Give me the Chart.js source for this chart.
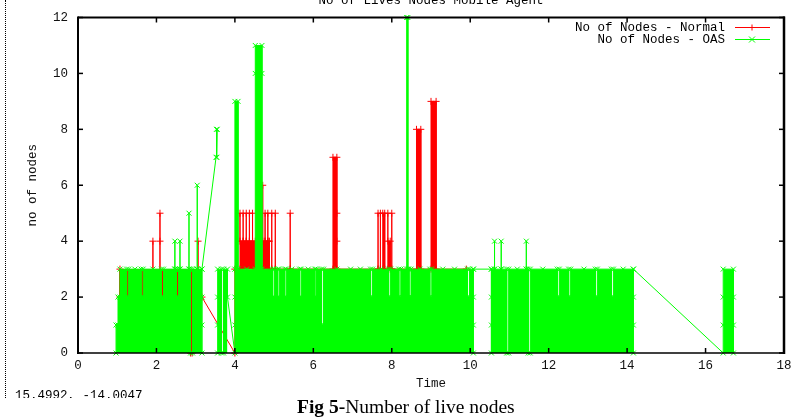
<!DOCTYPE html>
<html><head><meta charset="utf-8">
<script src="https://cdn.jsdelivr.net/npm/chart.js@4.4.0/dist/chart.umd.min.js"></script>
<style>
html,body{margin:0;padding:0;background:#fff;}
#wrap{position:relative;width:799px;height:418px;overflow:hidden;background:#fff;}
#c{position:absolute;left:0;top:0;}
#title{position:absolute;left:78px;width:706px;top:-6px;text-align:center;font:12.5px/15px "Liberation Mono",monospace;color:#000;white-space:pre;}
#dots{position:absolute;left:5px;top:0;height:398px;border-left:1px dotted #000;}
#coords{position:absolute;left:15px;top:389px;height:9px;width:200px;overflow:hidden;}
#coords span{position:absolute;left:0;top:0;font:12.5px/15px "Liberation Mono",monospace;white-space:pre;color:#000;}
#caption{position:absolute;left:297px;top:397px;font:19.5px/20px "Liberation Serif","Times New Roman",serif;white-space:pre;color:#000;}
</style></head>
<body><div id="wrap"><canvas id="c" width="799" height="418"></canvas>
<div id="title">No of Lives Nodes Mobile Agent</div>
<div id="dots"></div>
<div id="coords"><span>15.4992, -14.0047</span></div>
<div id="caption"><b>Fig 5-</b>Number of live nodes</div>
</div>
<script>
// ---- tick labels ----
const xTicks = [0, 2, 4, 6, 8, 10, 12, 14, 16, 18];
const yTicks = [0, 2, 4, 6, 8, 10, 12];

// ---- series: [time, no of nodes]  (null = break in the line) ----
// No of Nodes - OAS (green)
const oasBlockA = [
 [0.97,0],[0.97,1],[1.02,1],[1.02,2],[1.07,2],[1.07,3],
 [1.24,3],[1.24,2],[1.29,2],[1.29,3],[1.45,3],
 [1.61,3],[1.61,2],[1.66,2],[1.66,3],[1.91,3],
 [2.13,3],[2.13,2],[2.18,2],[2.18,3],
 [2.47,3],[2.47,4],[2.47,3],
 [2.51,3],[2.51,2],[2.56,2],[2.56,3],
 [2.60,3],[2.60,4],[2.60,3],
 [2.83,3],[2.83,5],[2.83,3],
 [2.87,3],[2.87,0],[2.92,0],[2.92,3],
 [3.04,3],[3.04,6],[3.04,3],
 [3.16,3],[3.16,2],[3.16,1],[3.16,0],[3.16,3]
];
const oasRise = [
 [3.52,7],[3.53,8],[3.54,7],[3.55,8],[3.555,null]
];
const oasBlockB = [
 [3.56,0],[3.56,1],[3.56,2],[3.56,3],[3.66,3],[3.66,0],[3.71,0],[3.71,3],
 [3.81,3],[3.81,2],[4.00,0]
];
const oasBlockC = [
 [4.00,1],[4.00,2],[4.00,3],[4.00,9],[4.08,9],[4.08,3],[4.30,3],
 [4.52,3],[4.52,10],[4.52,11],[4.69,11],[4.69,10],[4.69,3],
 [4.96,3],[4.96,2],[5.00,2],[5.00,3],
 [5.09,3],[5.09,2],[5.13,2],[5.13,3],
 [5.27,3],[5.27,2],[5.31,2],[5.31,3],[5.45,3],
 [5.65,3],[5.65,2],[5.69,2],[5.69,3],[5.87,3],
 [6.04,3],[6.04,2],[6.08,2],[6.08,3],
 [6.21,3],[6.21,1],[6.26,1],[6.26,3],
 [6.60,3],[6.95,3],[7.20,3],
 [7.46,3],[7.46,2],[7.51,2],[7.51,3],[7.72,3],
 [7.92,3],[7.92,2],[7.97,2],[7.97,3],
 [8.18,3],[8.18,2],[8.23,2],[8.23,3],
 [8.38,3],[8.38,12],[8.41,12],[8.41,3],
 [8.44,3],[8.44,2],[8.49,2],[8.49,3],[8.72,3],
 [8.97,3],[8.97,2],[9.02,2],[9.02,3],
 [9.30,3],[9.60,3],
 [9.93,3],[9.93,2],[9.98,2],[9.98,3],
 [10.08,3],[10.08,2],[10.08,1],[10.08,0],[10.08,3]
];
const oasBlockD = [
 [10.54,3],[10.54,2],[10.54,1],[10.54,0],[10.54,3],
 [10.62,3],[10.62,4],[10.62,3],
 [10.79,3],[10.79,4],[10.79,3],
 [10.93,3],[10.93,0],[10.98,0],[10.98,3],[11.20,3],
 [11.43,3],[11.43,4],[11.43,3],
 [11.48,3],[11.48,0],[11.53,0],[11.53,3],[11.85,3],
 [12.22,3],[12.22,2],[12.27,2],[12.27,3],
 [12.51,3],[12.51,2],[12.56,2],[12.56,3],[12.90,3],
 [13.19,3],[13.19,2],[13.24,2],[13.24,3],
 [13.60,3],[13.60,2],[13.65,2],[13.65,3],[13.90,3],
 [14.16,3],[14.16,2],[14.16,1],[14.16,0],[14.16,3]
];
const oasBlockE = [
 [16.45,0],[16.45,1],[16.45,2],[16.45,3],[16.71,3],[16.71,2],[16.71,1],[16.71,0]
];

// No of Nodes - Normal (red)
const normalBlockA = [
 [1.07,3],[1.07,2],
 [1.91,2],[1.91,4],[1.91,2],
 [2.09,2],[2.09,4],[2.09,5],[2.09,2],
 [2.87,2],[2.87,0],[2.91,0],[2.91,2],
 [3.06,2],[3.06,4],[3.06,2],
 [3.16,2],[4.00,0]
];
const normalBlockC = [
 [4.00,3],
 [4.13,3],[4.13,5],[4.13,4],
 [4.21,4],[4.21,5],[4.21,4],
 [4.29,4],[4.29,5],[4.29,4],
 [4.37,4],[4.37,5],[4.37,4],
 [4.45,4],[4.45,5],[4.45,4],
 [4.52,4],[4.52,3],
 [4.71,3],[4.71,6],[4.71,4],
 [4.77,4],[4.77,5],[4.77,4],
 [4.84,4],[4.84,5],[4.84,4],
 [4.88,4],[4.88,3],
 [4.94,3],[4.94,5],[4.94,3],
 [5.03,3],[5.03,5],[5.03,3],
 [5.41,3],[5.41,5],[5.41,3],
 [6.50,3],[6.50,7],[6.60,7],[6.60,5],[6.60,4],[6.60,3],
 [7.65,3],[7.65,5],[7.65,3],
 [7.71,3],[7.71,5],[7.71,3],
 [7.77,3],[7.77,5],[7.82,5],[7.82,3],
 [7.90,3],[7.90,5],[7.90,4],[7.96,4],[7.96,3],
 [8.00,3],[8.00,5],[8.00,3],
 [8.63,3],[8.63,8],[8.74,8],[8.74,3],
 [9.00,3],[9.00,9],[9.13,9],[9.13,3],
 [9.90,3]
];

const normalSeries = [...normalBlockA, ...normalBlockC];
const oasSeries = [...oasBlockA, ...oasRise, ...oasBlockB, ...oasBlockC, ...oasBlockD, ...oasBlockE];
const toXY = arr => arr.map(([t, n]) => ({x: t, y: n}));

const RED = '#ff0000', GREEN = '#00ff00', CLEAR = 'rgba(0,0,0,0)';
const FONT = '"Liberation Mono", monospace';
const slanted = c => c.p1.parsed.x !== c.p0.parsed.x && c.p1.parsed.y !== c.p0.parsed.y;

function markPath(ctx, style, x, y, r) {
  ctx.beginPath();
  if (style === 'cross') {
    ctx.moveTo(x - r, y); ctx.lineTo(x + r, y);
    ctx.moveTo(x, y - r); ctx.lineTo(x, y + r);
  } else {
    ctx.moveTo(x - r, y - r); ctx.lineTo(x + r, y + r);
    ctx.moveTo(x - r, y + r); ctx.lineTo(x + r, y - r);
  }
  ctx.stroke();
}

const framePlugin = {
  id: 'frame',
  afterDatasetsDraw(chart) {
    const {ctx, chartArea: a, scales: {x, y}} = chart;
    ctx.save();
    ctx.strokeStyle = '#000';
    const seg = (x1, y1, x2, y2, w) => { ctx.lineWidth = w; ctx.beginPath(); ctx.moveTo(x1, y1); ctx.lineTo(x2, y2); ctx.stroke(); };
    xTicks.forEach(v => {
      const px = x.getPixelForValue(v);
      seg(px, a.bottom, px, a.bottom - 5, 1.5);
      seg(px, a.top, px, a.top + 5, 1.5);
    });
    yTicks.forEach(v => {
      const py = y.getPixelForValue(v);
      seg(a.left, py, a.left + 5, py, 1.5);
      seg(a.right, py, a.right - 5, py, 1.5);
    });
    seg(a.left, a.bottom, a.right, a.bottom, 1.5);
    seg(a.left, a.top, a.right + 1, a.top, 2);
    seg(a.left, a.top - 1, a.left, a.bottom + 1, 2);
    seg(a.right, a.top - 1, a.right, a.bottom + 1, 2.5);
    ctx.restore();
  },
  afterDraw(chart) {
    const {ctx, chartArea: a} = chart;
    ctx.save();
    ctx.font = '12.5px ' + FONT;
    ctx.textAlign = 'right';
    ctx.textBaseline = 'middle';
    chart.data.datasets.forEach((ds, i) => {
      const yy = a.top + 10 + i * 12;
      ctx.fillStyle = '#000';
      ctx.fillText(ds.label, a.right - 59, yy);
      ctx.strokeStyle = ds.borderColor;
      ctx.lineWidth = 1;
      ctx.beginPath(); ctx.moveTo(a.right - 49, yy); ctx.lineTo(a.right - 14, yy); ctx.stroke();
      markPath(ctx, ds.pointStyle, a.right - 32, yy, 3);
    });
    ctx.restore();
  }
};

new Chart(document.getElementById('c'), {
  type: 'line',
  data: {
    datasets: [
      {
        label: 'No of Nodes - Normal',
        data: toXY(normalSeries),
        borderColor: RED, backgroundColor: RED, borderWidth: 1,
        pointStyle: 'cross', pointRadius: 3.5, pointBorderWidth: 1,
        pointBorderColor: RED, pointBackgroundColor: RED,
        fill: {value: 3}, order: 1, clip: 5, tension: 0, spanGaps: false,
        segment: {backgroundColor: c => slanted(c) ? CLEAR : undefined}
      },
      {
        label: 'No of Nodes - OAS',
        data: toXY(oasSeries),
        borderColor: GREEN, backgroundColor: GREEN, borderWidth: 1,
        pointStyle: 'crossRot', pointRadius: 3.5, pointBorderWidth: 1,
        pointBorderColor: GREEN, pointBackgroundColor: GREEN,
        fill: 'origin', order: 0, clip: 5, tension: 0, spanGaps: false,
        segment: {backgroundColor: c => (slanted(c) || Math.abs(c.p1.parsed.x - c.p0.parsed.x) > 0.4) ? CLEAR : undefined}
      }
    ]
  },
  options: {
    responsive: false,
    animation: false,
    events: [],
    devicePixelRatio: 1,
    layout: {padding: {left: 0, right: 15, top: 17, bottom: 0}},
    plugins: {legend: {display: false}, tooltip: {enabled: false}, title: {display: false}},
    scales: {
      x: {
        type: 'linear', min: 0, max: 18,
        afterBuildTicks: s => { s.ticks = xTicks.map(v => ({value: v})); },
        afterFit: s => { s.height = 65; },
        grid: {display: false, drawTicks: false},
        border: {display: false},
        ticks: {color: '#111', font: {family: FONT, size: 12.5}, padding: 5.5, maxRotation: 0, autoSkip: false},
        title: {display: true, text: 'Time', color: '#111', font: {family: FONT, size: 12.5}, padding: {top: 0, bottom: 26.5}}
      },
      y: {
        type: 'linear', min: 0, max: 12,
        afterBuildTicks: s => { s.ticks = yTicks.map(v => ({value: v})); },
        afterFit: s => { s.width = 78; },
        grid: {display: false, drawTicks: false},
        border: {display: false},
        ticks: {color: '#111', font: {family: FONT, size: 12.5}, padding: 10, autoSkip: false},
        title: {display: true, text: 'no of nodes', color: '#111', font: {family: FONT, size: 12.5}, padding: {top: 25, bottom: 0}}
      }
    }
  },
  plugins: [framePlugin]
});
</script>
</body></html>
